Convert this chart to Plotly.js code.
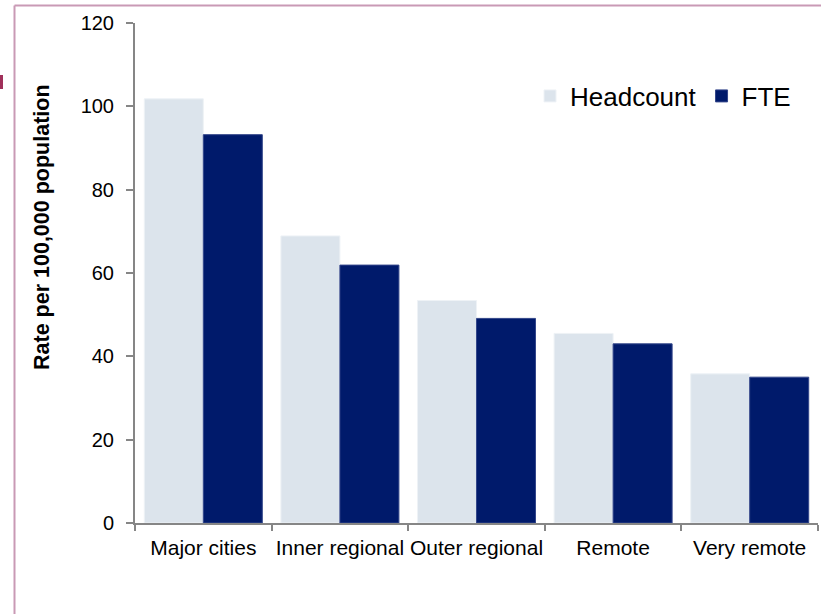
<!DOCTYPE html>
<html>
<head>
<meta charset="utf-8">
<script src="https://cdn.plot.ly/plotly-3.0.1.min.js"></script>
<style>
  html, body { margin: 0; padding: 0; background: #ffffff; }
  #chart { width: 821px; height: 614px; }
</style>
</head>
<body>
<div id="chart"></div>
<script>
const categories = ["Major cities", "Inner regional", "Outer regional", "Remote", "Very remote"];
const headcount = [101.8, 68.9, 53.4, 45.5, 35.8];
const fte = [93.2, 61.9, 49.1, 43.0, 35.0];
const seriesNames = ["Headcount", "FTE"];
const yTitle = "Rate per 100,000 population";

const FONT = "Liberation Sans, Arial, sans-serif";

const traces = [
  {
    type: "bar",
    name: seriesNames[0],
    x: categories,
    y: headcount,
    marker: { color: "#DCE4EC", line: { color: "#EEF2F6", width: 1 } },
    hoverinfo: "x+y+name"
  },
  {
    type: "bar",
    name: seriesNames[1],
    x: categories,
    y: fte,
    marker: { color: "#001A6B", line: { color: "#33468A", width: 1 } },
    hoverinfo: "x+y+name"
  }
];

// pixel helpers for decorative items (plot area: x 135..818, y 23..523)
const L = 135, R = 818, T = 23, B = 523;
const px = v => (v - L) / (R - L);
const py = v => (B - v) / (B - T);

const layout = {
  width: 821,
  height: 614,
  margin: { l: L, r: 821 - R, t: T, b: 614 - B, pad: 0 },
  paper_bgcolor: "#ffffff",
  plot_bgcolor: "#ffffff",
  barmode: "group",
  bargap: 0.136,
  bargroupgap: 0,
  showlegend: true,
  legend: {
    orientation: "h",
    x: px(530),
    xanchor: "left",
    y: py(96),
    yanchor: "middle",
    font: { family: FONT, size: 26, color: "#000000" },
    bgcolor: "rgba(0,0,0,0)",
    itemwidth: 30,
    traceorder: "normal"
  },
  xaxis: {
    type: "category",
    showgrid: false,
    zeroline: false,
    showline: true,
    linecolor: "#868686",
    linewidth: 2,
    ticks: "outside",
    tickson: "boundaries",
    ticklen: 6,
    tickwidth: 2,
    tickcolor: "#868686",
    tickangle: 0,
    ticklabelstandoff: 5,
    tickfont: { family: FONT, size: 21, color: "#000000" },
    fixedrange: true
  },
  yaxis: {
    range: [0, 120],
    tickvals: [0, 20, 40, 60, 80, 100, 120],
    showgrid: false,
    zeroline: false,
    showline: true,
    linecolor: "#868686",
    linewidth: 2,
    ticks: "outside",
    ticklen: 7,
    tickwidth: 2,
    tickcolor: "#868686",
    ticklabelstandoff: 8,
    tickfont: { family: FONT, size: 20, color: "#000000" },
    fixedrange: true
  },
  annotations: [
    {
      text: "<b>" + yTitle + "</b>",
      xref: "paper", yref: "paper",
      x: px(42), y: py(227),
      xanchor: "center", yanchor: "middle",
      textangle: -90,
      showarrow: false,
      font: { family: FONT, size: 21.5, color: "#000000" }
    }
  ],
  shapes: [
    { type: "line", xref: "paper", yref: "paper", x0: px(14.5), x1: px(14.5), y0: py(5.5), y1: py(620),
      line: { color: "#C99AB5", width: 2 } },
    { type: "line", xref: "paper", yref: "paper", x0: px(14.5), x1: px(825), y0: py(5.5), y1: py(5.5),
      line: { color: "#C99AB5", width: 2 } },
    { type: "rect", xref: "paper", yref: "paper", x0: px(0), x1: px(3), y0: py(89), y1: py(75),
      fillcolor: "#A0305A", line: { width: 0 } }
  ]
};

Plotly.newPlot("chart", traces, layout, { displayModeBar: false, staticPlot: true });
</script>
</body>
</html>
